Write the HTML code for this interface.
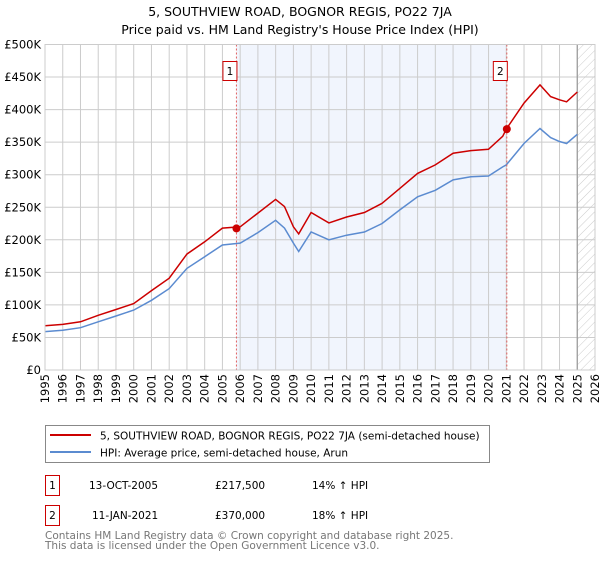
<!DOCTYPE html>
<html><head><meta charset="utf-8"><style>
body{margin:0;background:#fff;font-family:"Liberation Sans","DejaVu Sans",sans-serif;}
svg text{font-family:"DejaVu Sans","Liberation Sans",sans-serif;}
</style></head><body>
<svg id="c" width="600" height="560" viewBox="0 0 600 560" xmlns="http://www.w3.org/2000/svg">
<defs><pattern id="hatch" width="6" height="6" patternUnits="userSpaceOnUse" patternTransform="rotate(45)"><line x1="0" y1="0" x2="0" y2="6" stroke="#ccc" stroke-width="1"/></pattern></defs>
<text x="300" y="16" text-anchor="middle" font-size="12.5">5, SOUTHVIEW ROAD, BOGNOR REGIS, PO22 7JA</text>
<text x="300" y="34" text-anchor="middle" font-size="12.5">Price paid vs. HM Land Registry's House Price Index (HPI)</text>
<g id="plot"></g>
<g>
<rect x="45.5" y="425.5" width="444" height="37" fill="#fff" stroke="#888"/>
<line x1="50" y1="435" x2="91" y2="435" stroke="#cc0000" stroke-width="2"/>
<text x="100" y="439.5" font-size="10.5">5, SOUTHVIEW ROAD, BOGNOR REGIS, PO22 7JA (semi-detached house)</text>
<line x1="50" y1="452" x2="91" y2="452" stroke="#5b8bd0" stroke-width="2"/>
<text x="100" y="456.5" font-size="10.5">HPI: Average price, semi-detached house, Arun</text>
</g>
<g font-size="10.5">
<rect x="45.5" y="475.5" width="14" height="20" fill="#fff" stroke="#cc0000"/><text x="52.5" y="489" text-anchor="middle">1</text>
<text x="89" y="489">13-OCT-2005</text><text x="215" y="489">£217,500</text><text x="312" y="489">14% ↑ HPI</text>
<rect x="45.5" y="505.5" width="14" height="20" fill="#fff" stroke="#cc0000"/><text x="52.5" y="519" text-anchor="middle">2</text>
<text x="92" y="519">11-JAN-2021</text><text x="215" y="519">£370,000</text><text x="312" y="519">18% ↑ HPI</text>
</g>
<text x="45" y="539" font-size="10.5" fill="#777">Contains HM Land Registry data © Crown copyright and database right 2025.</text>
<text x="45" y="549" font-size="10.5" fill="#777">This data is licensed under the Open Government Licence v3.0.</text>
</svg>
<script>
const hpiYears=[1995,1996,1997,1998,1999,2000,2001,2002,2003,2004,2005,2006,2007,2008,2008.5,2009,2009.3,2010,2011,2012,2013,2014,2015,2016,2017,2018,2019,2020,2020.8,2021,2022,2022.9,2023.5,2024,2024.4,2025];
const hpiValues=[59,61,65,74,83,92,107,125,156,174,192,195,211,230,218,195,182,212,200,207,212,225,246,266,276,292,297,298,312,315,348,371,357,351,348,362];
const priceValues=[68,70,74,84,93,102,122,141,178,197,218,220,241,262,251,220,209,242,226,235,242,256,279,302,315,333,337,339,359,370,410,438,420,415,412,427];
const saleYears=[2005.79,2021.03];
const saleValues=[217.5,370];
const saleLabels=["1","2"];
const yTicks=[0,50,100,150,200,250,300,350,400,450,500];
const yTickLabels=["£0","£50K","£100K","£150K","£200K","£250K","£300K","£350K","£400K","£450K","£500K"];
const xTicks=[1995,1996,1997,1998,1999,2000,2001,2002,2003,2004,2005,2006,2007,2008,2009,2010,2011,2012,2013,2014,2015,2016,2017,2018,2019,2020,2021,2022,2023,2024,2025,2026];

const X0=45,X1=595,Y0=370,Y1=44.5;
const xs=y=>X0+(y-1995)/(2026-1995)*(X1-X0);
const ys=v=>Y0-v/500*(Y0-Y1);
const NS="http://www.w3.org/2000/svg";
const g=document.getElementById('plot');
function mk(t,a){const e=document.createElementNS(NS,t);for(const k in a)e.setAttribute(k,a[k]);g.appendChild(e);return e;}
let e;
e=mk('rect',{x:xs(saleYears[0]),y:Y1,width:xs(saleYears[1])-xs(saleYears[0]),height:Y0-Y1,fill:'#eef3fc',opacity:0.8});


e=mk('rect',{x:xs(2025),y:Y1,width:X1-xs(2025),height:Y0-Y1,fill:'url(#hatch)'});


yTicks.forEach((v,i)=>{
 e=mk('line',{x1:X0,x2:X1,y1:ys(v),y2:ys(v),stroke:'#ccc','stroke-width':1});
 
 
 e=mk('text',{x:X0-4,y:ys(v)+4,'text-anchor':'end','font-size':11.5});
 e.textContent=yTickLabels[i];
 
 
});
xTicks.forEach(yr=>{
 e=mk('line',{x1:xs(yr),x2:xs(yr),y1:Y1,y2:Y0,stroke:'#ccc','stroke-width':1});
 
 
 e=mk('text',{x:0,y:0,'text-anchor':'end','font-size':11.5,transform:`translate(${xs(yr)+4},${Y0+4}) rotate(-90)`});
 e.textContent=yr;
 
 
});
e=mk('line',{x1:xs(2025),x2:xs(2025),y1:Y1,y2:Y0,stroke:'#999','stroke-width':1.2});


function path(vals){return hpiYears.map((y,i)=>(i?'L':'M')+xs(y).toFixed(1)+','+ys(vals[i]).toFixed(1)).join('');}
e=mk('path',{d:path(hpiValues),fill:'none',stroke:'#5b8bd0','stroke-width':1.5});


e=mk('path',{d:path(priceValues),fill:'none',stroke:'#cc0000','stroke-width':1.5});


saleYears.forEach((yr,i)=>{
 e=mk('line',{x1:xs(yr),x2:xs(yr),y1:Y1,y2:Y0,stroke:'#e06060','stroke-width':1,'stroke-dasharray':'2,2'});
 
 
 e=mk('circle',{cx:xs(yr),cy:ys(saleValues[i]),r:4,fill:'#cc0000'});
 
 
 e=mk('rect',{x:xs(yr)-13.5,y:61.5,width:14,height:19,fill:'#fff',stroke:'#cc0000'});
 
 
 e=mk('text',{x:xs(yr)-6.5,y:75,'text-anchor':'middle','font-size':10.5});
 e.textContent=saleLabels[i];
 
 
});
e=mk('rect',{x:X0,y:Y1,width:X1-X0,height:Y0-Y1,fill:'none',stroke:'#ccc'});


</script>
</body></html>
